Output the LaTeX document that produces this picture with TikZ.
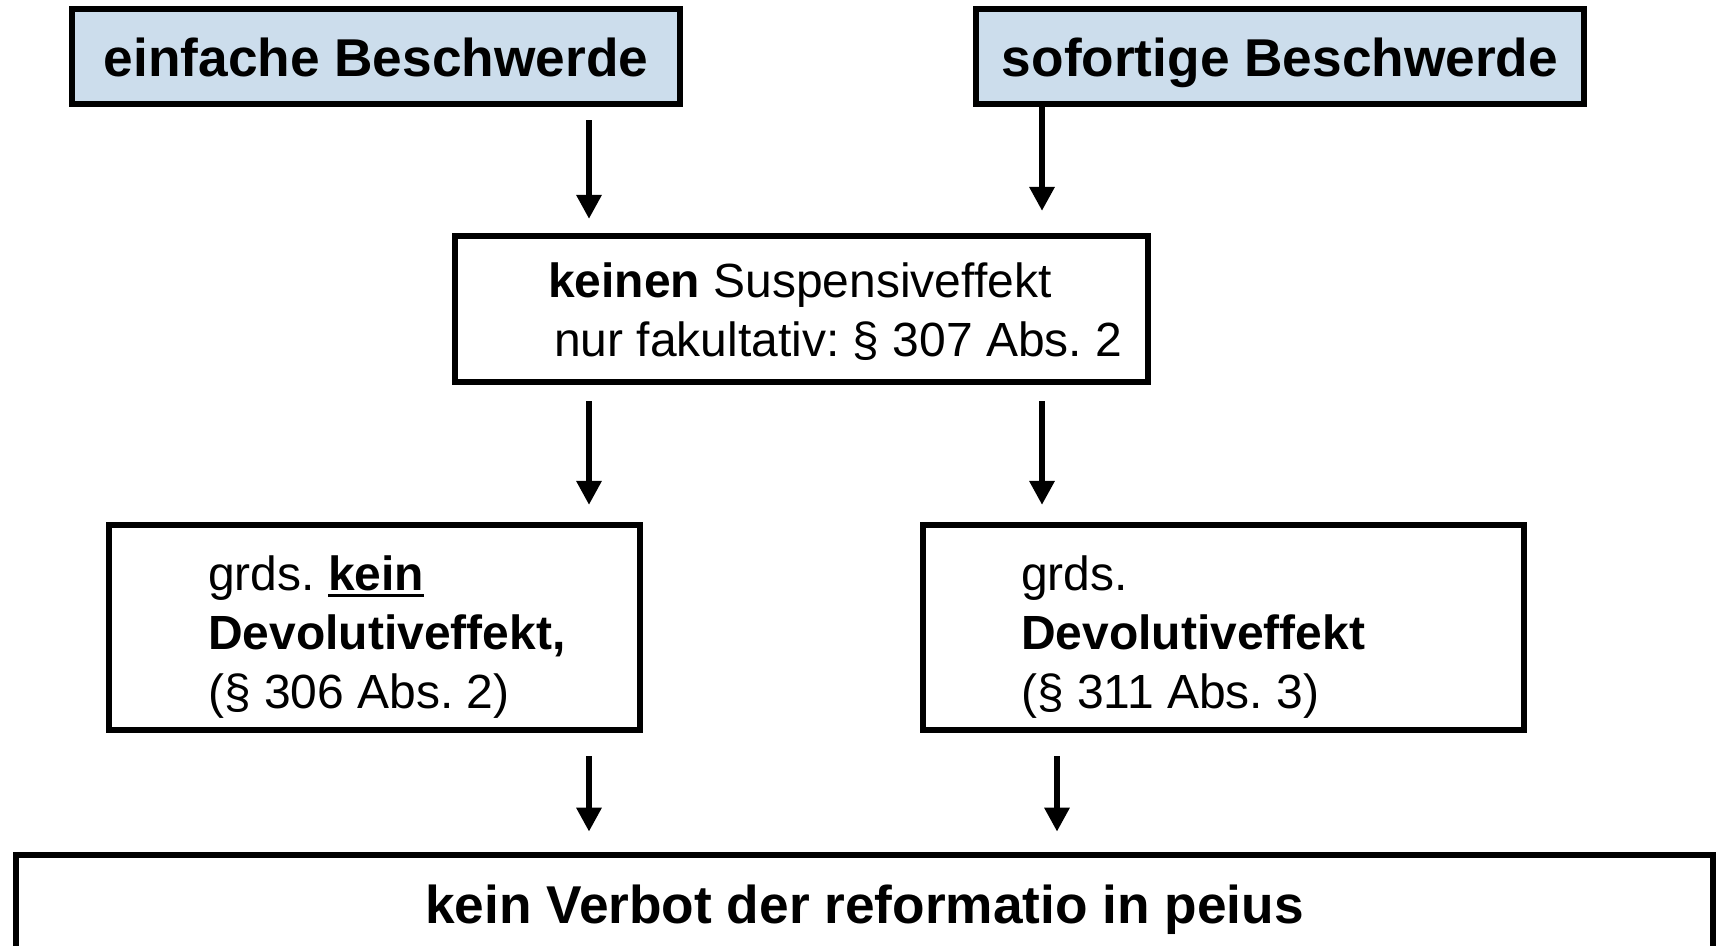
\documentclass[tikz,border=0pt]{standalone}
\usepackage{fontspec}
\setmainfont{Liberation Sans}
\usetikzlibrary{arrows.meta}
\definecolor{hellblau}{RGB}{204,221,236}
\newcommand{\unterstr}[1]{\leavevmode\vtop{\hbox{#1}\kern1.5pt\hrule height 1.8pt}}
\frenchspacing

\begin{document}
\begin{tikzpicture}[
    kopf/.style={draw, fill=hellblau, line width=3.8pt, minimum width=12.16cm, minimum height=1.9cm, inner sep=0pt, text height=22.4pt, text depth=0pt, font=\fontsize{30.3}{36}\selectfont\bfseries},
    kasten/.style={draw, line width=3.5pt, inner sep=0pt},
    inhalt/.style={anchor=base west, inner sep=0pt, font=\fontsize{27.3}{33.5}\selectfont},
    fuss/.style={draw, line width=3.8pt, minimum width=33.94cm, minimum height=1.94cm, inner sep=0pt, text height=22.4pt, text depth=0pt, font=\fontsize{30.3}{36}\selectfont\bfseries},
    pfeil/.style={-{Triangle[length=0.48cm, width=0.48cm]}, line width=3.4pt}
]
\useasboundingbox (0,0) rectangle (34.46,-18.9);
% Rechtsmittel
\node[kopf] (einf) at (7.52,-1.13) {einfache Beschwerde};
\node[kopf] (sof) at (25.6,-1.13) {sofortige Beschwerde};
% Wirkungen
\node[kasten, minimum width=13.86cm, minimum height=2.92cm] (mid) at (16.03,-6.18) {};
\node[inhalt] (mid-t) at ([xshift=1.92cm, yshift=-1.3cm]mid.north west)
    {\begin{tabular}[t]{@{}l@{}}\textbf{keinen} Suspensiveffekt\\ \hspace*{0.12cm}nur fakultativ: § 307 Abs. 2\end{tabular}};
\node[kasten, minimum width=10.62cm, minimum height=4.1cm] (links) at (7.49,-12.55) {};
\node[inhalt] (links-t) at ([xshift=2.04cm, yshift=-1.38cm]links.north west)
    {\begin{tabular}[t]{@{}l@{}}grds. \unterstr{\textbf{kein}}\\ \textbf{Devolutiveffekt,}\\ (§ 306 Abs. 2)\end{tabular}};
\node[kasten, minimum width=12.02cm, minimum height=4.1cm] (rechts) at (24.47,-12.55) {};
\node[inhalt] (rechts-t) at ([xshift=2.02cm, yshift=-1.38cm]rechts.north west)
    {\begin{tabular}[t]{@{}l@{}}grds.\\ \textbf{Devolutiveffekt}\\ (§ 311 Abs. 3)\end{tabular}};
\node[fuss] (fuss) at (17.29,-18.07) {kein Verbot der reformatio in peius};
% Spalten der Pfeile
\coordinate (xl) at (11.78,0);
\coordinate (xr) at (20.84,0);
\coordinate (xr3) at (21.14,0);
\draw[pfeil, shorten <=0.26cm, shorten >=0.28cm] (einf.south -| xl) -- (mid.north -| xl);
\draw[pfeil, shorten >=0.44cm] (sof.south -| xr) -- (mid.north -| xr);
\draw[pfeil, shorten <=0.32cm, shorten >=0.34cm] (mid.south -| xl) -- (links.north -| xl);
\draw[pfeil, shorten <=0.32cm, shorten >=0.34cm] (mid.south -| xr) -- (rechts.north -| xr);
\draw[pfeil, shorten <=0.46cm, shorten >=0.4cm] (links.south -| xl) -- (fuss.north -| xl);
\draw[pfeil, shorten <=0.46cm, shorten >=0.4cm] (rechts.south -| xr3) -- (fuss.north -| xr3);
\end{tikzpicture}
\end{document}
